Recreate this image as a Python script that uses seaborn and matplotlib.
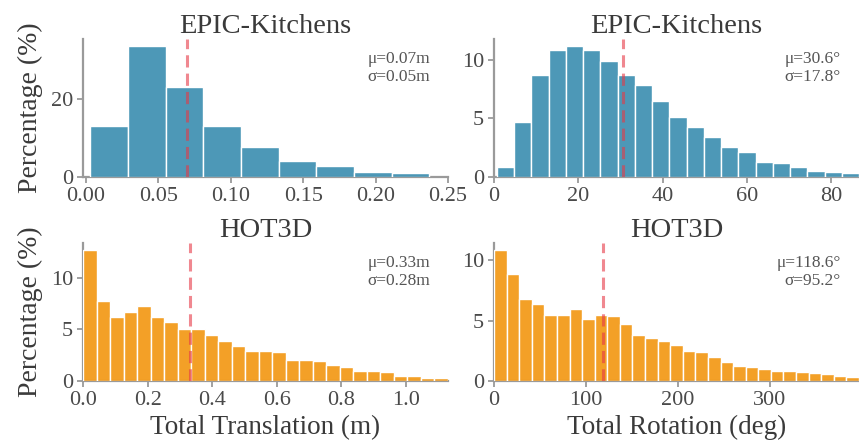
import numpy as np
import pandas as pd
import matplotlib
matplotlib.use("Agg")
import matplotlib.pyplot as plt
from matplotlib.ticker import MultipleLocator, FormatStrFormatter
import seaborn as sns

# ---------------- data (percent of samples per bin) ----------------
titles = ["EPIC-Kitchens", "EPIC-Kitchens", "HOT3D", "HOT3D"]
x_labels = ["Total Translation (m)", "Total Rotation (deg)"]
y_label = "Percentage (%)"

epic_trans_pct = [13.0, 33.7, 23.2, 13.0, 7.8, 4.2, 2.8, 1.2, 1.1]
epic_trans_range = (0.003, 0.237)
epic_rot_pct = [0.86, 4.7, 8.65, 10.8, 11.2, 10.8, 9.9, 8.65, 7.8, 6.5, 5.1,
                4.3, 3.4, 2.6, 2.1, 1.3, 1.2, 0.86, 0.5, 0.4, 0.3]
epic_rot_range = (0.7, 86.6)
hot_trans_pct = [12.7, 7.7, 6.2, 6.7, 7.2, 6.2, 5.7, 5.0, 5.0, 4.4, 3.9, 3.4, 2.9,
                 2.9, 2.8, 2.0, 2.0, 1.9, 1.5, 1.4, 1.0, 1.0, 0.9, 0.5, 0.5, 0.3, 0.3]
hot_trans_range = (0.0, 1.13)
hot_rot_pct = [10.9, 8.9, 6.8, 6.4, 5.5, 5.5, 5.95, 5.1, 5.5, 5.4, 4.7, 3.8, 3.6,
               3.3, 3.0, 2.5, 2.4, 2.0, 1.6, 1.25, 1.2, 1.0, 0.8, 0.8, 0.75, 0.65,
               0.55, 0.45, 0.35]
hot_rot_range = (0.0, 397.0)

means = [0.07, 30.6, 0.33, 118.6]
stats_text = ["\u03bc=0.07m\n\u03c3=0.05m",
              "\u03bc=30.6\u00b0\n\u03c3=17.8\u00b0",
              "\u03bc=0.33m\n\u03c3=0.28m",
              "\u03bc=118.6\u00b0\n\u03c3=95.2\u00b0"]

# ---------------- style ----------------
sns.set_theme(style="ticks")
plt.rcParams["font.family"] = ["Liberation Serif", "DejaVu Serif"]

blue = "#2E86AB"
orange = "#F18F01"
mean_color = "#e63946"
text_color = "#3a3a3a"
spine_color = "#9a9a9a"

fig, axes = plt.subplots(2, 2, figsize=(8.59, 4.45), dpi=100)
fig.subplots_adjust(left=83 / 859, right=1.0, bottom=1 - 381 / 445, top=1 - 39 / 445,
                    wspace=0.126, hspace=0.478)

panels = [
    (axes[0, 0], epic_trans_pct, epic_trans_range, blue, (-0.002, 0.25), 0.05, "%.2f", 20),
    (axes[0, 1], epic_rot_pct, epic_rot_range, blue, (0, 86.6), 20, "%d", 5),
    (axes[1, 0], hot_trans_pct, hot_trans_range, orange, (0, 1.13), 0.2, "%.1f", 5),
    (axes[1, 1], hot_rot_pct, hot_rot_range, orange, (0, 397), 100, "%d", 5),
]

for i, (ax, pct, rng, color, xlim, step, fmt, ystep) in enumerate(panels):
    n = len(pct)
    width = (rng[1] - rng[0]) / n
    centers = rng[0] + (np.arange(n) + 0.5) * width
    df = pd.DataFrame({"x": centers, "pct": pct})
    sns.histplot(data=df, x="x", weights="pct", bins=n, binrange=rng, ax=ax,
                 color=color, alpha=0.85, edgecolor="white", linewidth=1.0, zorder=3)
    ax.axvline(means[i], color=mean_color, ls=(0, (4, 2)), lw=2.2, alpha=0.6, zorder=4)
    ax.set_xlim(*xlim)
    ax.xaxis.set_major_locator(MultipleLocator(step))
    ax.xaxis.set_major_formatter(FormatStrFormatter(fmt))
    ax.yaxis.set_major_locator(MultipleLocator(ystep))
    ax.set_title(titles[i], fontsize=20.5, color=text_color, pad=4)
    ax.text(0.95, 0.91, stats_text[i], transform=ax.transAxes, ha="right", va="top",
            fontsize=12.5, color="#555555", linespacing=1.1)
    sns.despine(ax=ax)
    for side in ("left", "bottom"):
        ax.spines[side].set_color(spine_color)
        ax.spines[side].set_linewidth(1.6)
    ax.tick_params(axis="both", colors=spine_color, labelcolor="#4a4a4a",
                   labelsize=16, length=4, width=1.3, pad=3)
    if i % 2 == 0:
        ax.set_ylabel(y_label, fontsize=20, color=text_color, labelpad=6)
    else:
        ax.set_ylabel("")
    if i >= 2:
        ax.set_xlabel(x_labels[i - 2], fontsize=19.5, color=text_color, labelpad=4)
    else:
        ax.set_xlabel("")

fig.savefig("out.png", dpi=100)
